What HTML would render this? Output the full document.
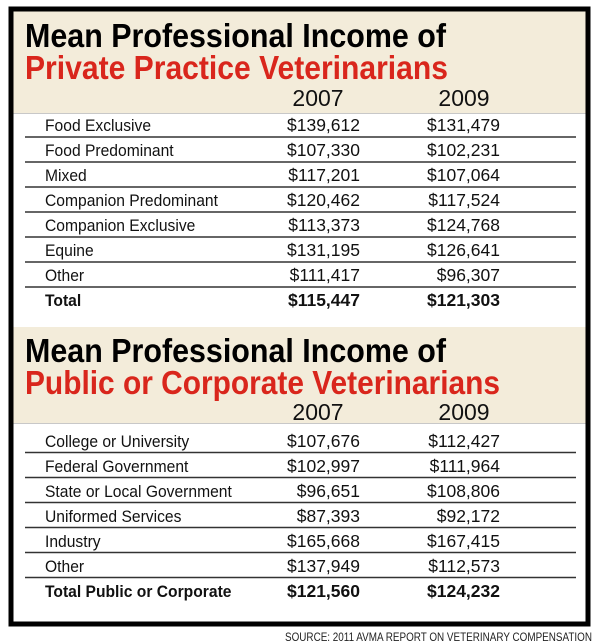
<!DOCTYPE html>
<html><head><meta charset="utf-8"><style>
html,body{margin:0;padding:0;background:#fff;}
svg{display:block;}
text{font-family:"Liberation Sans",sans-serif;}
.t{font-weight:bold;font-size:33px;}
.h{font-size:23px;fill:#111;}
.l{font-size:17px;fill:#111;}
.n{font-size:17.5px;fill:#111;text-anchor:end;}
.b{font-weight:bold;}
</style></head><body>
<svg width="600" height="643" viewBox="0 0 600 643">
<rect x="0" y="0" width="600" height="643" fill="#fff"/>
<rect x="11" y="9" width="577" height="615" fill="#fff" stroke="#000" stroke-width="5"/>
<rect x="13.5" y="11.5" width="572" height="101.5" fill="#f3ecda"/>
<line x1="13.5" y1="113.5" x2="585.5" y2="113.5" stroke="#c8c8c8" stroke-width="1"/>
<text class="t" x="25" y="47" textLength="421" lengthAdjust="spacingAndGlyphs">Mean Professional Income of</text>
<text class="t" x="25" y="79" fill="#d9261c" textLength="423" lengthAdjust="spacingAndGlyphs">Private Practice Veterinarians</text>
<text class="h" x="318" y="106" text-anchor="middle">2007</text>
<text class="h" x="464" y="106" text-anchor="middle">2009</text>
<g stroke="#333" stroke-width="1.5">
<line x1="25" y1="137" x2="576" y2="137"/>
<line x1="25" y1="162" x2="576" y2="162"/>
<line x1="25" y1="187" x2="576" y2="187"/>
<line x1="25" y1="212" x2="576" y2="212"/>
<line x1="25" y1="237" x2="576" y2="237"/>
<line x1="25" y1="262" x2="576" y2="262"/>
<line x1="25" y1="287" x2="576" y2="287"/>
</g>
<g transform="translate(45,0) scale(0.92,1)">
<text class="l" x="0" y="131">Food Exclusive</text>
<text class="l" x="0" y="156">Food Predominant</text>
<text class="l" x="0" y="181">Mixed</text>
<text class="l" x="0" y="206">Companion Predominant</text>
<text class="l" x="0" y="231">Companion Exclusive</text>
<text class="l" x="0" y="256">Equine</text>
<text class="l" x="0" y="281">Other</text>
<text class="l b" x="0" y="306">Total</text>
<text class="l" x="0" y="447">College or University</text>
<text class="l" x="0" y="472">Federal Government</text>
<text class="l" x="0" y="497">State or Local Government</text>
<text class="l" x="0" y="522">Uniformed Services</text>
<text class="l" x="0" y="547">Industry</text>
<text class="l" x="0" y="572">Other</text>
<text class="l b" x="0" y="597">Total Public or Corporate</text>
</g>
<text class="n" x="360" y="131">$139,612</text><text class="n" x="500" y="131">$131,479</text>
<text class="n" x="360" y="156">$107,330</text><text class="n" x="500" y="156">$102,231</text>
<text class="n" x="360" y="181">$117,201</text><text class="n" x="500" y="181">$107,064</text>
<text class="n" x="360" y="206">$120,462</text><text class="n" x="500" y="206">$117,524</text>
<text class="n" x="360" y="231">$113,373</text><text class="n" x="500" y="231">$124,768</text>
<text class="n" x="360" y="256">$131,195</text><text class="n" x="500" y="256">$126,641</text>
<text class="n" x="360" y="281">$111,417</text><text class="n" x="500" y="281">$96,307</text>
<text class="n b" x="360" y="306">$115,447</text><text class="n b" x="500" y="306">$121,303</text>

<rect x="13.5" y="327" width="572" height="96" fill="#f3ecda"/>
<line x1="13.5" y1="423.5" x2="585.5" y2="423.5" stroke="#c8c8c8" stroke-width="1"/>
<text class="t" x="25" y="362" textLength="421" lengthAdjust="spacingAndGlyphs">Mean Professional Income of</text>
<text class="t" x="25" y="394" fill="#d9261c" textLength="475" lengthAdjust="spacingAndGlyphs">Public or Corporate Veterinarians</text>
<text class="h" x="318" y="420" text-anchor="middle">2007</text>
<text class="h" x="464" y="420" text-anchor="middle">2009</text>
<g stroke="#333" stroke-width="1.5">
<line x1="25" y1="452.5" x2="576" y2="452.5"/>
<line x1="25" y1="477.5" x2="576" y2="477.5"/>
<line x1="25" y1="502.5" x2="576" y2="502.5"/>
<line x1="25" y1="527.5" x2="576" y2="527.5"/>
<line x1="25" y1="552.5" x2="576" y2="552.5"/>
<line x1="25" y1="577.5" x2="576" y2="577.5"/>
</g>
<text class="n" x="360" y="447">$107,676</text><text class="n" x="500" y="447">$112,427</text>
<text class="n" x="360" y="472">$102,997</text><text class="n" x="500" y="472">$111,964</text>
<text class="n" x="360" y="497">$96,651</text><text class="n" x="500" y="497">$108,806</text>
<text class="n" x="360" y="522">$87,393</text><text class="n" x="500" y="522">$92,172</text>
<text class="n" x="360" y="547">$165,668</text><text class="n" x="500" y="547">$167,415</text>
<text class="n" x="360" y="572">$137,949</text><text class="n" x="500" y="572">$112,573</text>
<text class="n b" x="360" y="597">$121,560</text><text class="n b" x="500" y="597">$124,232</text>

<text x="592" y="641" text-anchor="end" font-size="11.5" fill="#222" textLength="307" lengthAdjust="spacingAndGlyphs">SOURCE: 2011 AVMA REPORT ON VETERINARY COMPENSATION</text>
</svg>
</body></html>
